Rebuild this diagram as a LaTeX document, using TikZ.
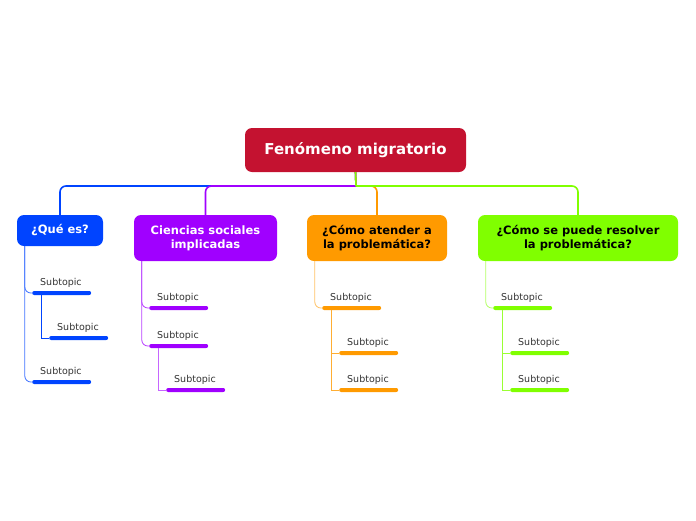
\documentclass[tikz,border=0pt]{standalone}
\usepackage{fontspec}
\setmainfont{DejaVu Sans}
\usepackage{tikz}
\usetikzlibrary{positioning}

\definecolor{rootred}{HTML}{C41230}
\definecolor{qblue}{HTML}{0044FF}
\definecolor{qpurple}{HTML}{A000FF}
\definecolor{qorange}{HTML}{FF9A00}
\definecolor{qgreen}{HTML}{80FF00}
\definecolor{subgray}{HTML}{333333}

\begin{document}
\begin{tikzpicture}[x=1pt,y=-1pt]
\tikzstyle{topic}=[rectangle, rounded corners=7pt, inner sep=0pt, align=center,
    font=\fontsize{11.5}{14}\selectfont\bfseries]
\tikzstyle{bar}=[rectangle, rounded corners=2pt, inner sep=0pt, anchor=west,
    minimum width=59pt, minimum height=4pt]
\tikzstyle{subtxt}=[font=\fontsize{9.5}{11}\selectfont, text=subgray, inner sep=0pt,
    anchor=base west, xshift=8pt, yshift=5pt]
\tikzstyle{trunk}=[line width=1.6pt]
\tikzstyle{twig}=[line width=0.8pt]
\useasboundingbox (0,0) rectangle (696,520);

% main topic
\node[topic, fill=rootred, text=white, minimum width=221pt, minimum height=44pt,
    font=\fontsize{15}{18}\selectfont\bfseries] (root) at (355.5,150) {Fenómeno migratorio};
\coordinate (hub) at (356,186);

% topics
\node[topic, fill=qblue, text=white, minimum width=86pt, minimum height=31pt] (qe) at (60,230.5) {¿Qué es?};
\node[topic, fill=qpurple, text=white, minimum width=143pt, minimum height=46pt] (cs) at (205.5,238) {Ciencias sociales\\implicadas};
\node[topic, fill=qorange, text=black, minimum width=140pt, minimum height=46pt] (ca) at (377,238) {¿Cómo atender a\\la problemática?};
\node[topic, fill=qgreen, text=black, minimum width=200pt, minimum height=46pt] (cr) at (578,238) {¿Cómo se puede resolver\\la problemática?};

\draw[trunk, qblue] (root.south) -- (hub);
\draw[trunk, qblue, rounded corners=6pt] (hub) -| (qe.north);
\draw[trunk, qpurple] (root.south) -- (hub);
\draw[trunk, qpurple, rounded corners=6pt] (hub) -| (cs.north);
\draw[trunk, qorange] (root.south) -- (hub);
\draw[trunk, qorange, rounded corners=6pt] (hub) -| (ca.north);
\draw[trunk, qgreen] (root.south) -- (hub);
\draw[trunk, qgreen, rounded corners=6pt] (hub) -| (cr.north);

% subtopics
\node[bar, fill=qblue, label={[subtxt]north west:Subtopic}] (b1) at (32,293) {};
\node[bar, fill=qblue, label={[subtxt]north west:Subtopic}] (b1a) at (49,338) {};
\node[bar, fill=qblue, label={[subtxt]north west:Subtopic}] (b2) at (32,382) {};

\node[bar, fill=qpurple, label={[subtxt]north west:Subtopic}] (p1) at (149,308) {};
\node[bar, fill=qpurple, label={[subtxt]north west:Subtopic}] (p2) at (149,346) {};
\node[bar, fill=qpurple, label={[subtxt]north west:Subtopic}] (p2a) at (166,390) {};

\node[bar, fill=qorange, label={[subtxt]north west:Subtopic}] (o1) at (322,308) {};
\node[bar, fill=qorange, label={[subtxt]north west:Subtopic}] (o1a) at (339,353) {};
\node[bar, fill=qorange, label={[subtxt]north west:Subtopic}] (o1b) at (339,390) {};

\node[bar, fill=qgreen, label={[subtxt]north west:Subtopic}] (g1) at (493,308) {};
\node[bar, fill=qgreen, label={[subtxt]north west:Subtopic}] (g1a) at (510,353) {};
\node[bar, fill=qgreen, label={[subtxt]north west:Subtopic}] (g1b) at (510,390) {};

\draw[twig, qblue!75, rounded corners=6pt] ([xshift=8pt]qe.south west) |- (b1.west);
\draw[twig, qblue!75, rounded corners=6pt] ([xshift=8pt]qe.south west) |- (b2.west);
\draw[twig, qblue] ([xshift=9pt]b1.south west) |- (b1a.west);

\draw[twig, qpurple!75, rounded corners=6pt] ([xshift=8pt]cs.south west) |- (p1.west);
\draw[twig, qpurple!75, rounded corners=6pt] ([xshift=8pt]cs.south west) |- (p2.west);
\draw[twig, qpurple!60] ([xshift=9pt]p2.south west) |- (p2a.west);

\draw[twig, qorange!60, rounded corners=6pt] ([xshift=8pt]ca.south west) |- (o1.west);
\draw[twig, qorange!80] ([xshift=9pt]o1.south west) |- (o1a.west);
\draw[twig, qorange!80] ([xshift=9pt]o1.south west) |- (o1b.west);

\draw[twig, qgreen!60, rounded corners=6pt] ([xshift=8pt]cr.south west) |- (g1.west);
\draw[twig, qgreen!80] ([xshift=9pt]g1.south west) |- (g1a.west);
\draw[twig, qgreen!80] ([xshift=9pt]g1.south west) |- (g1b.west);
\end{tikzpicture}
\end{document}
